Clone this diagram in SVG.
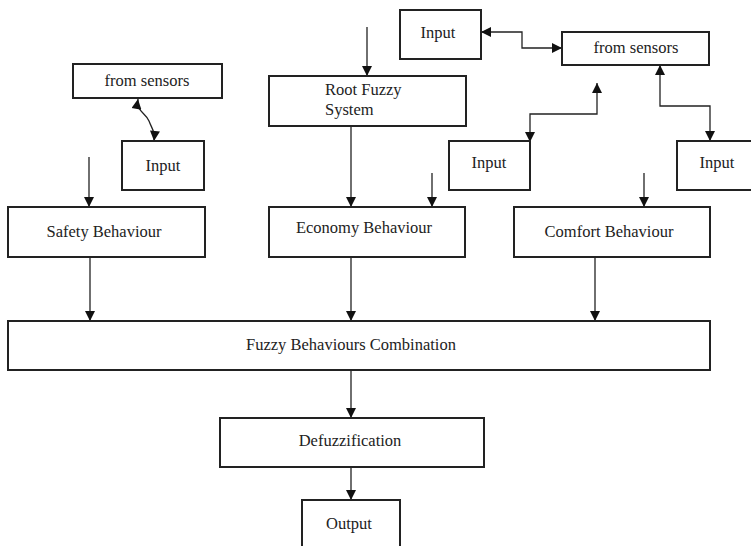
<svg xmlns="http://www.w3.org/2000/svg" width="751" height="546" viewBox="0 0 751 546">
<style>
.box{fill:#fff;stroke:#222;stroke-width:2}
text{font-family:"Times New Roman","Liberation Serif","Noto Serif","DejaVu Serif",serif;font-size:16.5px;fill:#222;text-anchor:middle}
.l{text-anchor:start}
.c{fill:none;stroke:#222;stroke-width:1.3}
</style>
<defs>
<marker id="ah" viewBox="0 0 10 10" refX="10" refY="5" markerWidth="11" markerHeight="10" markerUnits="userSpaceOnUse" orient="auto-start-reverse">
<path d="M0,0 L10,5 L0,10 Z" fill="#111"/>
</marker>
</defs>
<rect width="751" height="546" fill="#fff"/>
<g id="connectors">
<path class="c" d="M367,27 V76" marker-end="url(#ah)"/>
<path class="c" d="M89,157 V207" marker-end="url(#ah)"/>
<path class="c" d="M351,126 V207" marker-end="url(#ah)"/>
<path class="c" d="M432,173 V207" marker-end="url(#ah)"/>
<path class="c" d="M644,173 V207" marker-end="url(#ah)"/>
<path class="c" d="M90,257 V321" marker-end="url(#ah)"/>
<path class="c" d="M351,257 V321" marker-end="url(#ah)"/>
<path class="c" d="M595,257 V321" marker-end="url(#ah)"/>
<path class="c" d="M351,370 V418" marker-end="url(#ah)"/>
<path class="c" d="M351,467 V500" marker-end="url(#ah)"/>
<path class="c" d="M138,99 C136,112 146,113 149,121 C152,129 155,131 154,141" marker-start="url(#ah)" marker-end="url(#ah)"/>
<path class="c" d="M481,32 H522 V48 H562" marker-start="url(#ah)" marker-end="url(#ah)"/>
<path class="c" d="M597,83 V114 H530 V142" marker-start="url(#ah)" marker-end="url(#ah)"/>
<path class="c" d="M660,65 V106 H710 V141" marker-start="url(#ah)" marker-end="url(#ah)"/>
</g>
<g id="from-sensors-left"><rect class="box" x="73" y="64" width="149" height="34"/><text x="147" y="86">from sensors</text></g>
<g id="input-left"><rect class="box" x="122" y="141" width="82" height="49"/><text x="163" y="171">Input</text></g>
<g id="root-fuzzy"><rect class="box" x="269" y="76" width="197" height="50"/><text class="l" x="325" y="95">Root Fuzzy</text><text class="l" x="325" y="115">System</text></g>
<g id="input-top"><rect class="box" x="400" y="10" width="81" height="49"/><text x="438" y="38">Input</text></g>
<g id="from-sensors-right"><rect class="box" x="562" y="32" width="147" height="33"/><text x="636" y="53">from sensors</text></g>
<g id="input-mid"><rect class="box" x="449" y="141" width="81" height="49"/><text x="489" y="168">Input</text></g>
<g id="input-right"><rect class="box" x="677" y="141" width="90" height="49"/><text x="717" y="168">Input</text></g>
<g id="safety"><rect class="box" x="8" y="207" width="197" height="50"/><text x="104" y="237">Safety Behaviour</text></g>
<g id="economy"><rect class="box" x="269" y="207" width="196" height="50"/><text x="364" y="233">Economy Behaviour</text></g>
<g id="comfort"><rect class="box" x="514" y="207" width="196" height="50"/><text x="609" y="237">Comfort Behaviour</text></g>
<g id="combination"><rect class="box" x="8" y="321" width="702" height="49"/><text x="351" y="350">Fuzzy Behaviours Combination</text></g>
<g id="defuzzification"><rect class="box" x="220" y="418" width="264" height="49"/><text x="350" y="446">Defuzzification</text></g>
<g id="output"><rect class="box" x="302" y="500" width="98" height="60"/><text x="349" y="529">Output</text></g>
</svg>
